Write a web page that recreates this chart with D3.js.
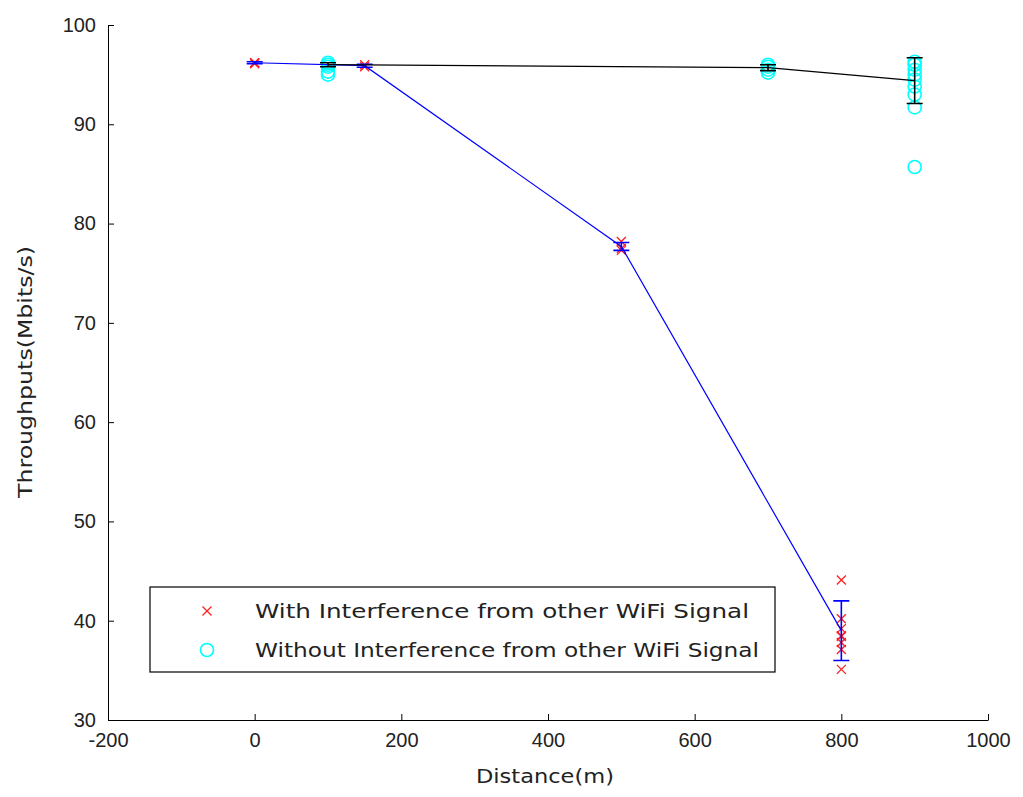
<!DOCTYPE html>
<html>
<head>
<meta charset="utf-8">
<script src="https://cdn.jsdelivr.net/npm/d3@7"></script>
<style>
  body { margin: 0; background: #fff; }
  svg { font-family: "DejaVu Sans", Verdana, sans-serif; }
  .axis path, .axis line { stroke: #000; }
  .axis text { font-size: 20px; fill: #222; }
</style>
</head>
<body>
<svg width="1023" height="797"></svg>
<script>
// raw samples, with interference (red x)
var withX = [0, 0, 0, 150, 150, 500, 500, 500, 800, 800, 800, 800, 800, 800, 800, 800];
var withY = [96.2, 96.1, 96.2, 95.8, 96.0, 78.2, 77.5, 77.3, 44.1, 40.2, 39.2, 38.5, 38.4, 37.8, 37.1, 35.1];

// raw samples, without interference (cyan o)
var withoutX = [100, 100, 100, 100, 100, 700, 700, 700, 700, 900, 900, 900, 900, 900, 900, 900, 900, 900];
var withoutY = [95.0, 95.3, 95.8, 96.0, 96.2, 95.2, 95.5, 95.8, 96.0, 85.7, 91.7, 93.0, 93.8, 94.5, 95.0, 95.5, 96.0, 96.3];

// means and error bars
var withMeanX = [0, 150, 500, 800];
var withMean = [96.2, 95.9, 77.7, 39.0];
var withErr = [0.1, 0.15, 0.4, 3.0];

var withoutMeanX = [100, 700, 900];
var withoutMean = [96.0, 95.7, 94.4];
var withoutErr = [0.2, 0.3, 2.3];

var xTicks = [-200, 0, 200, 400, 600, 800, 1000];
var yTicks = [30, 40, 50, 60, 70, 80, 90, 100];

var legendLabels = ["With Interference from other WiFi Signal", "Without Interference from other WiFi Signal"];

var svg = d3.select("svg");

var x = d3.scaleLinear().domain([-200, 1000]).range([108, 988]);
var y = d3.scaleLinear().domain([30, 100]).range([720, 25]);

svg.append("g")
  .attr("class", "axis")
  .attr("transform", "translate(0,720)")
  .call(d3.axisBottom(x).tickValues(xTicks).tickFormat(function (d) { return String(d); })
    .tickSizeInner(-6).tickSizeOuter(0).tickPadding(13))
  .selectAll("text").attr("dy", "0.71em");

svg.append("g")
  .attr("class", "axis")
  .attr("transform", "translate(108,0)")
  .call(d3.axisLeft(y).tickValues(yTicks).tickSizeInner(-6).tickSizeOuter(0).tickPadding(12));

svg.append("text")
  .attr("x", 545).attr("y", 783)
  .attr("text-anchor", "middle")
  .attr("font-size", 20).attr("fill", "#222")
  .attr("textLength", 138).attr("lengthAdjust", "spacingAndGlyphs")
  .text("Distance(m)");

svg.append("text")
  .attr("transform", "translate(32,372) rotate(-90)")
  .attr("text-anchor", "middle")
  .attr("font-size", 20).attr("fill", "#222")
  .attr("textLength", 252).attr("lengthAdjust", "spacingAndGlyphs")
  .text("Throughputs(Mbits/s)");

function cross(g, cx, cy, s) {
  g.append("path")
    .attr("d", "M" + (cx - s) + "," + (cy - s) + "L" + (cx + s) + "," + (cy + s) +
      "M" + (cx - s) + "," + (cy + s) + "L" + (cx + s) + "," + (cy - s))
    .attr("stroke", "#ff2020").attr("stroke-width", 1.3).attr("fill", "none");
}

var pts = svg.append("g");
withoutX.forEach(function (d, i) {
  pts.append("circle")
    .attr("cx", x(d)).attr("cy", y(withoutY[i])).attr("r", 6.5)
    .attr("fill", "none").attr("stroke", "#00ffff").attr("stroke-width", 1.6);
});
withX.forEach(function (d, i) {
  cross(pts, x(d), y(withY[i]), 4.5);
});

function errorSeries(xs, ms, es, color) {
  var g = svg.append("g");
  var line = d3.line().x(function (d) { return x(d[0]); }).y(function (d) { return y(d[1]); });
  g.append("path")
    .datum(xs.map(function (d, i) { return [d, ms[i]]; }))
    .attr("d", line).attr("fill", "none").attr("stroke", color).attr("stroke-width", 1.2);
  xs.forEach(function (d, i) {
    var cx = x(d), top = y(ms[i] + es[i]), bot = y(ms[i] - es[i]);
    g.append("path")
      .attr("d", "M" + cx + "," + top + "V" + bot +
        "M" + (cx - 8) + "," + top + "H" + (cx + 8) +
        "M" + (cx - 8) + "," + bot + "H" + (cx + 8))
      .attr("fill", "none").attr("stroke", color).attr("stroke-width", 1.6);
  });
}

errorSeries(withMeanX, withMean, withErr, "#0000ff");
errorSeries(withoutMeanX, withoutMean, withoutErr, "#000000");

// legend
var legendWidths = [494, 504];
var lg = svg.append("g").attr("transform", "translate(150,587)");
lg.append("rect")
  .attr("width", 625).attr("height", 85)
  .attr("fill", "#fff").attr("stroke", "#000").attr("stroke-width", 1.2);
cross(lg, 57, 24, 4.5);
lg.append("circle").attr("cx", 57).attr("cy", 63).attr("r", 6.5)
  .attr("fill", "none").attr("stroke", "#00ffff").attr("stroke-width", 1.6);
lg.selectAll("text.lab")
  .data(legendLabels)
  .enter().append("text")
  .attr("class", "lab")
  .attr("x", 105)
  .attr("y", function (d, i) { return 24 + i * 39; })
  .attr("dy", "0.35em")
  .attr("font-size", 20).attr("fill", "#222")
  .attr("textLength", function (d, i) { return legendWidths[i]; })
  .attr("lengthAdjust", "spacingAndGlyphs")
  .text(function (d) { return d; });
</script>
</body>
</html>
